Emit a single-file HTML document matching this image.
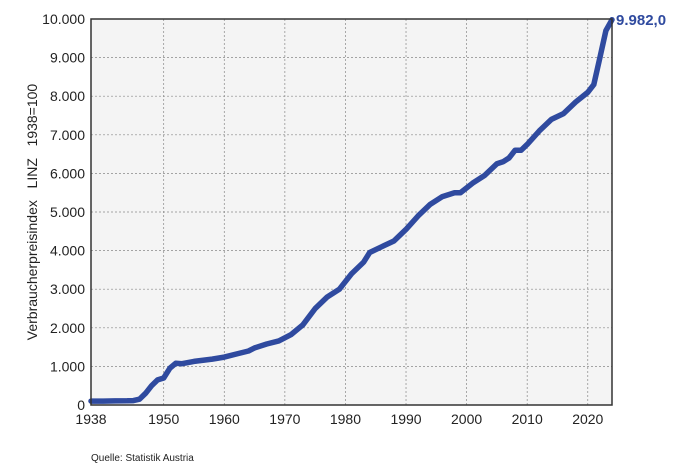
<!DOCTYPE html>
<html><head><meta charset="utf-8"><style>
html,body{margin:0;padding:0;background:#fff;width:682px;height:474px;overflow:hidden}
svg text{font-family:"Liberation Sans",sans-serif}
</style></head><body>
<svg id="chart" width="682" height="474" xmlns="http://www.w3.org/2000/svg">
<rect x="91" y="19" width="521" height="386" fill="#f4f4f4"/>
<g id="grid"></g>
<g id="yticks"></g>
<g id="xticks"></g>
<path id="line" fill="none" stroke="#2f4a9f" stroke-width="5.5" stroke-linejoin="round" stroke-linecap="round"/>
<rect x="91" y="19" width="521" height="386" fill="none" stroke="#333" stroke-width="1.5"/>
<text id="endlabel" x="616" y="25" font-size="15" font-weight="bold" fill="#2f4a9f">9.982,0</text>
<text transform="translate(37,212) rotate(-90)" text-anchor="middle" font-size="14" fill="#222" style="white-space:pre">Verbraucherpreisindex   LINZ   1938=100</text>
<text x="91" y="461" font-size="10" fill="#222">Quelle: Statistik Austria</text>
</svg>
<script>
const years=[1938,1940,1942,1944,1945,1946,1947,1948,1949,1950,1951,1952,1953,1955,1958,1960,1962,1964,1965,1967,1969,1971,1973,1975,1977,1979,1981,1983,1984,1986,1988,1990,1992,1994,1996,1998,1999,2001,2003,2005,2006,2007,2008,2009,2010,2012,2014,2016,2018,2020,2021,2022,2023,2024];
const values=[100,100,105,110,115,150,300,500,650,700,950,1080,1070,1130,1190,1240,1320,1400,1480,1580,1660,1820,2080,2500,2800,3000,3400,3700,3950,4100,4250,4550,4900,5200,5400,5500,5500,5750,5950,6250,6300,6400,6600,6600,6750,7100,7400,7550,7850,8100,8300,9000,9700,9982];
const yTicks=[0,1000,2000,3000,4000,5000,6000,7000,8000,9000,10000];
const yTickLabels=["0","1.000","2.000","3.000","4.000","5.000","6.000","7.000","8.000","9.000","10.000"];
const xTicks=[1938,1950,1960,1970,1980,1990,2000,2010,2020];
const NS="http://www.w3.org/2000/svg";
const x0=91,x1=612,y0=405,y1=19;
const xs=v=>x0+(v-1938)/(2024-1938)*(x1-x0);
const ys=v=>y0-v/10000*(y0-y1);
const grid=document.getElementById('grid'),yg=document.getElementById('yticks'),xg=document.getElementById('xticks');
yTicks.forEach((t,i)=>{
 if(t>0&&t<10000){const l=document.createElementNS(NS,'line');
 
 
 l.setAttribute('x1',x0);l.setAttribute('x2',x1);l.setAttribute('y1',ys(t));l.setAttribute('y2',ys(t));
 l.setAttribute('stroke','#888');l.setAttribute('stroke-dasharray','2,2');l.setAttribute('stroke-width','0.7');grid.appendChild(l);}
 const tx=document.createElementNS(NS,'text');
 
 
 tx.setAttribute('x',x0-6);tx.setAttribute('y',ys(t)+5);tx.setAttribute('text-anchor','end');tx.setAttribute('font-size','14');tx.setAttribute('fill','#222');
 tx.textContent=yTickLabels[i];yg.appendChild(tx);
});
xTicks.forEach(t=>{
 if(t>1938){const l=document.createElementNS(NS,'line');
 
 
 l.setAttribute('x1',xs(t));l.setAttribute('x2',xs(t));l.setAttribute('y1',y1);l.setAttribute('y2',y0);
 l.setAttribute('stroke','#888');l.setAttribute('stroke-dasharray','2,2');l.setAttribute('stroke-width','0.7');grid.appendChild(l);}
 const tx=document.createElementNS(NS,'text');
 
 
 tx.setAttribute('x',xs(t));tx.setAttribute('y',y0+19);tx.setAttribute('text-anchor','middle');tx.setAttribute('font-size','14');tx.setAttribute('fill','#222');
 tx.textContent=t;xg.appendChild(tx);
});
document.getElementById('line').setAttribute('d',years.map((y,i)=>(i?'L':'M')+xs(y).toFixed(1)+','+ys(values[i]).toFixed(1)).join(''));
</script>
</body></html>
